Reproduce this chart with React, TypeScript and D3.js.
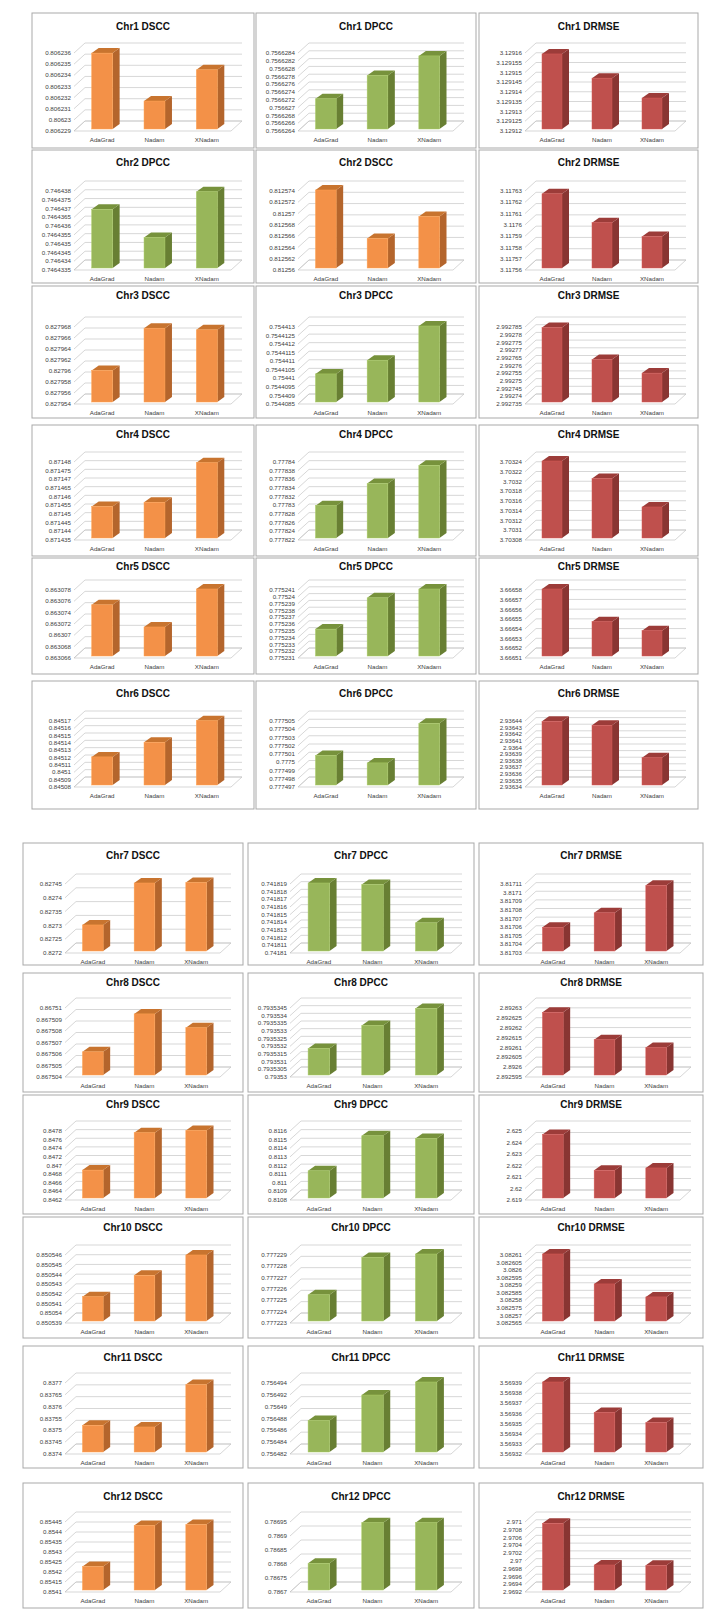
import * as d3 from "d3";

// methods compared in every panel
const methods = ["AdaGrad", "Nadam", "XNadam"];
const chromosomes = ["Chr1", "Chr2", "Chr3", "Chr4", "Chr5", "Chr6", "Chr7", "Chr8", "Chr9", "Chr10", "Chr11", "Chr12"];

// metric shown in each column, per row (row 2 swaps DSCC and DPCC)
const panelOrder = [
  ["DSCC", "DPCC", "DRMSE"],
  ["DPCC", "DSCC", "DRMSE"],
  ["DSCC", "DPCC", "DRMSE"],
  ["DSCC", "DPCC", "DRMSE"],
  ["DSCC", "DPCC", "DRMSE"],
  ["DSCC", "DPCC", "DRMSE"],
  ["DSCC", "DPCC", "DRMSE"],
  ["DSCC", "DPCC", "DRMSE"],
  ["DSCC", "DPCC", "DRMSE"],
  ["DSCC", "DPCC", "DRMSE"],
  ["DSCC", "DPCC", "DRMSE"],
  ["DSCC", "DPCC", "DRMSE"],
];

// values per chromosome: [AdaGrad, Nadam, XNadam]
const dsccValues = [
  [0.8062359, 0.8062316, 0.8062344],
  [0.812574, 0.8125654, 0.8125693],
  [0.8279599, 0.8279676, 0.8279673],
  [0.8714537, 0.8714562, 0.871479],
  [0.8630752, 0.8630713, 0.863078],
  [0.8451197, 0.8451396, 0.845169],
  [0.827298, 0.82745, 0.827452],
  [0.8675061, 0.8675094, 0.8675082],
  [0.84687, 0.847738, 0.84779],
  [0.8505416, 0.8505438, 0.8505459],
  [0.837517, 0.83751, 0.837689],
  [0.854222, 0.854428, 0.854432],
];
const dpccValues = [
  [0.7566272, 0.7566278, 0.7566283],
  [0.7464369, 0.7464353, 0.7464379],
  [0.7544102, 0.754411, 0.754413],
  [0.7778297, 0.7778348, 0.777839],
  [0.7752351, 0.7752397, 0.775241],
  [0.7775007, 0.7774998, 0.7775046],
  [0.741819, 0.7418188, 0.7418138],
  [0.7935318, 0.7935333, 0.7935344],
  [0.811127, 0.811533, 0.811501],
  [0.7772254, 0.7772287, 0.777229],
  [0.7564875, 0.7564918, 0.756494],
  [0.786799, 0.786944, 0.786944],
];
const drmseValues = [
  [3.129159, 3.1291466, 3.1291364],
  [3.1176266, 3.117601, 3.1175887],
  [2.992784, 2.9927632, 2.9927544],
  [3.70324, 3.703204, 3.7031457],
  [3.66658, 3.6665464, 3.6665371],
  [2.936438, 2.936432, 2.9363829],
  [3.8170587, 3.8170754, 3.8171073],
  [2.8926273, 2.8926134, 2.8926095],
  [2.62461, 2.62149, 2.6217],
  [3.08261, 3.0825902, 3.0825816],
  [3.56939, 3.56936, 3.56935],
  [2.97094, 2.969869, 2.96986],
];

// axis tick labels, top to bottom
const dsccTicks = [
  [0.806236, 0.806235, 0.806234, 0.806233, 0.806232, 0.806231, 0.80623, 0.806229],
  [0.812574, 0.812572, 0.81257, 0.812568, 0.812566, 0.812564, 0.812562, 0.81256],
  [0.827968, 0.827966, 0.827964, 0.827962, 0.82796, 0.827958, 0.827956, 0.827954],
  [0.87148, 0.871475, 0.87147, 0.871465, 0.87146, 0.871455, 0.87145, 0.871445, 0.87144, 0.871435],
  [0.863078, 0.863076, 0.863074, 0.863072, 0.86307, 0.863068, 0.863066],
  [0.84517, 0.84516, 0.84515, 0.84514, 0.84513, 0.84512, 0.84511, 0.8451, 0.84509, 0.84508],
  [0.82745, 0.8274, 0.82735, 0.8273, 0.82725, 0.8272],
  [0.86751, 0.867509, 0.867508, 0.867507, 0.867506, 0.867505, 0.867504],
  [0.8478, 0.8476, 0.8474, 0.8472, 0.847, 0.8468, 0.8466, 0.8464, 0.8462],
  [0.850546, 0.850545, 0.850544, 0.850543, 0.850542, 0.850541, 0.85054, 0.850539],
  [0.8377, 0.83765, 0.8376, 0.83755, 0.8375, 0.83745, 0.8374],
  [0.85445, 0.8544, 0.85435, 0.8543, 0.85425, 0.8542, 0.85415, 0.8541],
];
const dpccTicks = [
  [0.7566284, 0.7566282, 0.756628, 0.7566278, 0.7566276, 0.7566274, 0.7566272, 0.756627, 0.7566268, 0.7566266, 0.7566264],
  [0.746438, 0.7464375, 0.746437, 0.7464365, 0.746436, 0.7464355, 0.746435, 0.7464345, 0.746434, 0.7464335],
  [0.754413, 0.7544125, 0.754412, 0.7544115, 0.754411, 0.7544105, 0.75441, 0.7544095, 0.754409, 0.7544085],
  [0.77784, 0.777838, 0.777836, 0.777834, 0.777832, 0.77783, 0.777828, 0.777826, 0.777824, 0.777822],
  [0.775241, 0.77524, 0.775239, 0.775238, 0.775237, 0.775236, 0.775235, 0.775234, 0.775233, 0.775232, 0.775231],
  [0.777505, 0.777504, 0.777503, 0.777502, 0.777501, 0.7775, 0.777499, 0.777498, 0.777497],
  [0.741819, 0.741818, 0.741817, 0.741816, 0.741815, 0.741814, 0.741813, 0.741812, 0.741811, 0.74181],
  [0.7935345, 0.793534, 0.7935335, 0.793533, 0.7935325, 0.793532, 0.7935315, 0.793531, 0.7935305, 0.79353],
  [0.8116, 0.8115, 0.8114, 0.8113, 0.8112, 0.8111, 0.811, 0.8109, 0.8108],
  [0.777229, 0.777228, 0.777227, 0.777226, 0.777225, 0.777224, 0.777223],
  [0.756494, 0.756492, 0.75649, 0.756488, 0.756486, 0.756484, 0.756482],
  [0.78695, 0.7869, 0.78685, 0.7868, 0.78675, 0.7867],
];
const drmseTicks = [
  [3.12916, 3.129155, 3.12915, 3.129145, 3.12914, 3.129135, 3.12913, 3.129125, 3.12912],
  [3.11763, 3.11762, 3.11761, 3.1176, 3.11759, 3.11758, 3.11757, 3.11756],
  [2.992785, 2.99278, 2.992775, 2.99277, 2.992765, 2.99276, 2.992755, 2.99275, 2.992745, 2.99274, 2.992735],
  [3.70324, 3.70322, 3.7032, 3.70318, 3.70316, 3.70314, 3.70312, 3.7031, 3.70308],
  [3.66658, 3.66657, 3.66656, 3.66655, 3.66654, 3.66653, 3.66652, 3.66651],
  [2.93644, 2.93643, 2.93642, 2.93641, 2.9364, 2.93639, 2.93638, 2.93637, 2.93636, 2.93635, 2.93634],
  [3.81711, 3.8171, 3.81709, 3.81708, 3.81707, 3.81706, 3.81705, 3.81704, 3.81703],
  [2.89263, 2.892625, 2.89262, 2.892615, 2.89261, 2.892605, 2.8926, 2.892595],
  [2.625, 2.624, 2.623, 2.622, 2.621, 2.62, 2.619],
  [3.08261, 3.082605, 3.0826, 3.082595, 3.08259, 3.082585, 3.08258, 3.082575, 3.08257, 3.082565],
  [3.56939, 3.56938, 3.56937, 3.56936, 3.56935, 3.56934, 3.56933, 3.56932],
  [2.971, 2.9708, 2.9706, 2.9704, 2.9702, 2.97, 2.9698, 2.9696, 2.9694, 2.9692],
];

const valueSets: Record<string, number[][]> = { DSCC: dsccValues, DPCC: dpccValues, DRMSE: drmseValues };
const tickSets: Record<string, number[][]> = { DSCC: dsccTicks, DPCC: dpccTicks, DRMSE: drmseTicks };

// front / side / top shades of the 3D columns
const palette: Record<string, [string, string, string]> = {
  DSCC: ["#F39148", "#B4652C", "#C8742F"],
  DPCC: ["#98B65A", "#687F33", "#77923C"],
  DRMSE: ["#BF504D", "#893532", "#9C3C39"],
};

// page layout (the two halves of the figure have slightly different columns)
const topCols = [{ x: 32, w: 222 }, { x: 256, w: 220 }, { x: 479, w: 219 }];
const bottomCols = [{ x: 23, w: 220 }, { x: 248, w: 226 }, { x: 479, w: 224 }];
const rowTop = [13, 150, 286, 425, 558, 681, 843, 973, 1095, 1217, 1346, 1483];
const rowTitle = [26, 162, 295, 434, 566, 693, 855, 982, 1104, 1227, 1357, 1496];
const rowPlotTop = [53, 191, 327, 462, 590, 721, 884, 1008, 1131, 1255, 1383, 1522];
const rowPlotBottom = [131, 270, 404, 540, 658, 787, 953, 1077, 1200, 1323, 1454, 1592];
const rowBottom = [148, 283, 418, 556, 674, 809, 965, 1092, 1214, 1338, 1468, 1608];

const DX = 11, DY = -10;   // wall depth
const BDX = 7, BDY = -5;   // column depth
const GRID = "#C6C6C6";
const FONT = "'Liberation Sans', Arial, sans-serif";

function Panel({ r, c }: { r: number; c: number }) {
  const metric = panelOrder[r][c];
  const { x: px, w } = (r < 6 ? topCols : bottomCols)[c];
  const ticks = tickSets[metric][r];
  const values = valueSets[metric][r];
  const [front, side, topShade] = palette[metric];

  const axisX = px + (c === 2 ? 46 : 42);
  const backRight = px + w - 12;
  const frontRight = backRight - DX;
  const y0 = rowPlotBottom[r];

  const y = d3.scaleLinear().domain([ticks[ticks.length - 1], ticks[0]]).range([y0, rowPlotTop[r]]);
  const x = d3.scaleBand().domain(methods).range([axisX, frontRight]).paddingInner(0.6).paddingOuter(0.3);
  const bw = x.bandwidth();

  const pts = (p: number[][]) => p.map(q => q.join(",")).join(" ");

  return (
    <g>
      <rect x={px} y={rowTop[r]} width={w} height={rowBottom[r] - rowTop[r]} fill="#fff" stroke="#A9A9A9" strokeWidth={1} />
      <text x={px + w / 2} y={rowTitle[r] + 3.6} textAnchor="middle" fontFamily={FONT} fontWeight="bold" fontSize={10} fill="#111">
        {`${chromosomes[r]} ${metric}`}
      </text>

      {/* side wall + back wall gridlines */}
      {ticks.map((t, i) => {
        const yy = y(t);
        return (
          <g key={i}>
            <line x1={axisX} y1={yy} x2={axisX + DX} y2={yy + DY} stroke={GRID} strokeWidth={0.7} />
            <line x1={axisX + DX} y1={yy + DY} x2={backRight} y2={yy + DY} stroke={GRID} strokeWidth={0.7} />
            <text x={axisX - 3} y={yy + 2.1} textAnchor="end" fontFamily={FONT} fontSize={6.2} fill="#404040">
              {String(t)}
            </text>
          </g>
        );
      })}

      {/* floor */}
      <polygon
        points={pts([[axisX, y0], [frontRight, y0], [backRight, y0 + DY], [axisX + DX, y0 + DY]])}
        fill="none" stroke={GRID} strokeWidth={0.7}
      />

      {/* 3D columns */}
      {methods.map((m, i) => {
        const bx = (x(m) ?? 0) + 2;
        const yt = y(values[i]) - 1;
        const yb = y0 - 2;
        return (
          <g key={m}>
            <polygon points={pts([[bx + bw, yt], [bx + bw + BDX, yt + BDY], [bx + bw + BDX, yb + BDY], [bx + bw, yb]])} fill={side} />
            <polygon points={pts([[bx, yt], [bx + BDX, yt + BDY], [bx + bw + BDX, yt + BDY], [bx + bw, yt]])} fill={topShade} />
            <rect x={bx} y={yt} width={bw} height={yb - yt} fill={front} stroke={d3.color(front)!.brighter(0.3).formatHex()} strokeWidth={0.5} />
          </g>
        );
      })}

      {methods.map(m => (
        <text key={m} x={(x(m) ?? 0) + bw / 2 + 2} y={y0 + 11} textAnchor="middle" fontFamily={FONT} fontSize={6.2} fill="#404040">
          {m}
        </text>
      ))}
    </g>
  );
}

export default function App() {
  const cells: { r: number; c: number }[] = [];
  chromosomes.forEach((_, r) => [0, 1, 2].forEach(c => cells.push({ r, c })));
  return (
    <svg width={720} height={1623} viewBox="0 0 720 1623"
      style={{ position: "absolute", left: 0, top: 0, background: "#fff" }}>
      <rect width={720} height={1623} fill="#fff" />
      {cells.map(({ r, c }) => <Panel key={`${r}-${c}`} r={r} c={c} />)}
    </svg>
  );
}
